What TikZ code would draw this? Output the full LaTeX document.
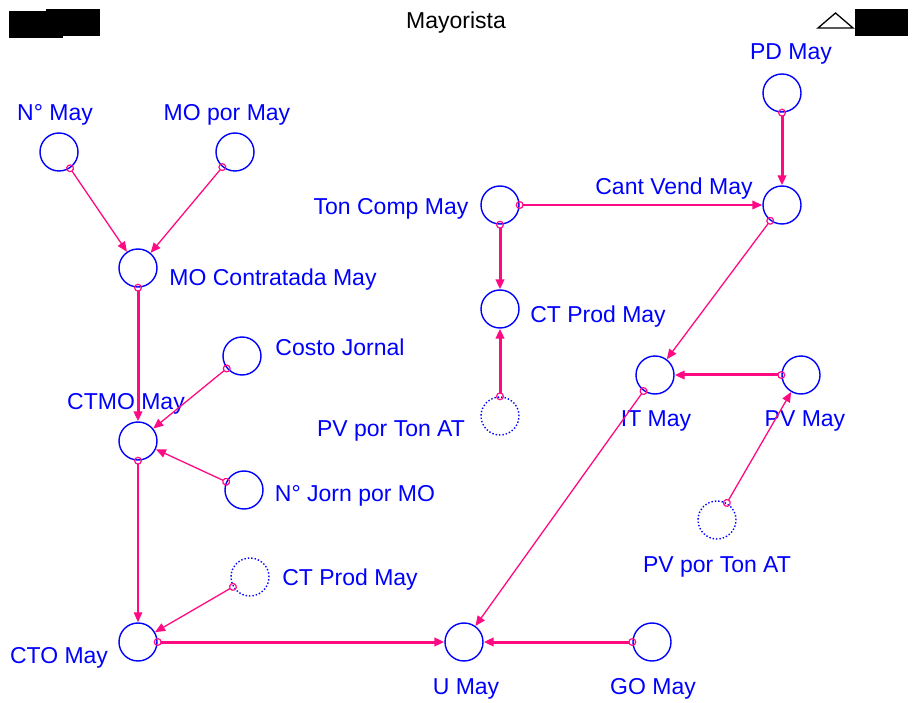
\documentclass[tikz,border=0pt]{standalone}
\usepackage{fontspec}
\setmainfont{Liberation Sans}
\usepackage{tikz}
\usetikzlibrary{arrows.meta}
\definecolor{vblue}{HTML}{0000FF}
\definecolor{vlink}{HTML}{FF0A82}
\newcommand{\varfont}{\fontsize{23}{27}\selectfont}
\tikzset{
  var/.style={circle, draw=vblue, line width=1.4pt, minimum size=38pt, inner sep=0pt},
  ghost/.style={var, dotted},
  vlabel/.style={text=vblue, font=\varfont, inner sep=0pt, anchor=base},
  tag/.style={fill=black},
}

\begin{document}
\begin{tikzpicture}[
    x=1pt, y=-1pt,
    link/.style={vlink, line width=1.3pt, shorten <=-4pt,
                 {Circle[open, length=8pt, width=8pt, line width=1.2pt]}-{Triangle[length=10pt, width=8.5pt]}},
    midlink/.style={link, line width=2pt},
    heavy/.style={link, line width=3pt}
  ]
  \useasboundingbox (0, 0) rectangle (914, 703);

  % header
  \node[tag, minimum width=54pt, minimum height=27pt, inner sep=0pt] (tagA) at (36, 24.5) {};
  \node[tag, minimum width=54pt, minimum height=27pt, inner sep=0pt] (tagB) at (73, 22.5) {};
  \node[tag, minimum width=53pt, minimum height=27pt, inner sep=0pt] (tagC) at (881.5, 22.5) {};
  \draw[line width=1.3pt, line join=miter] (818, 28) -- (835.5, 13) -- (853, 28) -- cycle;
  \node[font=\varfont, inner sep=0pt, anchor=base] (title) at (456, 29) {Mayorista};

  % labour block
  \node[var] (nmay) at (59, 152) {};
  \node[var] (mopor) at (235, 152) {};
  \node[var] (mocont) at (138, 268) {};
  \node[var] (costo) at (242, 356) {};
  \node[var] (ctmo) at (138, 441) {};
  \node[var] (njorn) at (244, 490) {};
  \node[ghost] (ctprodA) at (250, 577) {};
  \node[var] (cto) at (138, 642) {};

  % purchases and sales
  \node[var] (tcomp) at (500, 205) {};
  \node[var] (ctprod) at (500, 309) {};
  \node[ghost] (pvtonA) at (500, 416) {};
  \node[var] (pdmay) at (782, 93) {};
  \node[var] (cantv) at (782, 205) {};
  \node[var] (itmay) at (655, 375) {};
  \node[var] (pvmay) at (801, 375) {};
  \node[ghost] (pvtonB) at (717, 520) {};
  \node[var] (umay) at (464, 642) {};
  \node[var] (gomay) at (652, 642) {};

  \node[vlabel] (nmay-t) at (55, 121) {N° May};
  \node[vlabel] (mopor-t) at (227, 121) {MO por May};
  \node[vlabel] (mocont-t) at (273, 286) {MO Contratada May};
  \node[vlabel] (costo-t) at (340, 356) {Costo Jornal};
  \node[vlabel] (ctmo-t) at (126, 410) {CTMO May};
  \node[vlabel] (njorn-t) at (355, 501) {N° Jorn por MO};
  \node[vlabel] (ctprodA-t) at (350, 585) {CT Prod May};
  \node[vlabel] (cto-t) at (59, 663) {CTO May};
  \node[vlabel] (tcomp-t) at (391, 215) {Ton Comp May};
  \node[vlabel] (ctprod-t) at (598, 323) {CT Prod May};
  \node[vlabel] (pvtonA-t) at (391, 437) {PV por Ton AT};
  \node[vlabel] (pdmay-t) at (791, 60) {PD May};
  \node[vlabel] (cantv-t) at (674, 195) {Cant Vend May};
  \node[vlabel] (itmay-t) at (656, 427) {IT May};
  \node[vlabel] (pvmay-t) at (805, 427) {PV May};
  \node[vlabel] (pvtonB-t) at (717, 572) {PV por Ton AT};
  \node[vlabel] (umay-t) at (466, 694) {U May};
  \node[vlabel] (gomay-t) at (653, 694) {GO May};

  \draw[link] (nmay) -- (mocont);
  \draw[link] (mopor) -- (mocont);
  \draw[heavy] (mocont) -- (ctmo);
  \draw[link] (costo) -- (ctmo);
  \draw[link] (njorn) -- (ctmo);
  \draw[link] (ctmo) -- (cto);
  \draw[link] (ctprodA) -- (cto);
  \draw[heavy] (cto) -- (umay);
  \draw[heavy] (gomay) -- (umay);
  \draw[link] (itmay) -- (umay);

  \draw[midlink] (tcomp) -- (cantv);
  \draw[heavy] (tcomp) -- (ctprod);
  \draw[heavy] (pvtonA) -- (ctprod);
  \draw[heavy] (pdmay) -- (cantv);
  \draw[link] (cantv) -- (itmay);
  \draw[heavy] (pvmay) -- (itmay);
  \draw[link] (pvtonB) -- (pvmay);

\end{tikzpicture}
\end{document}
